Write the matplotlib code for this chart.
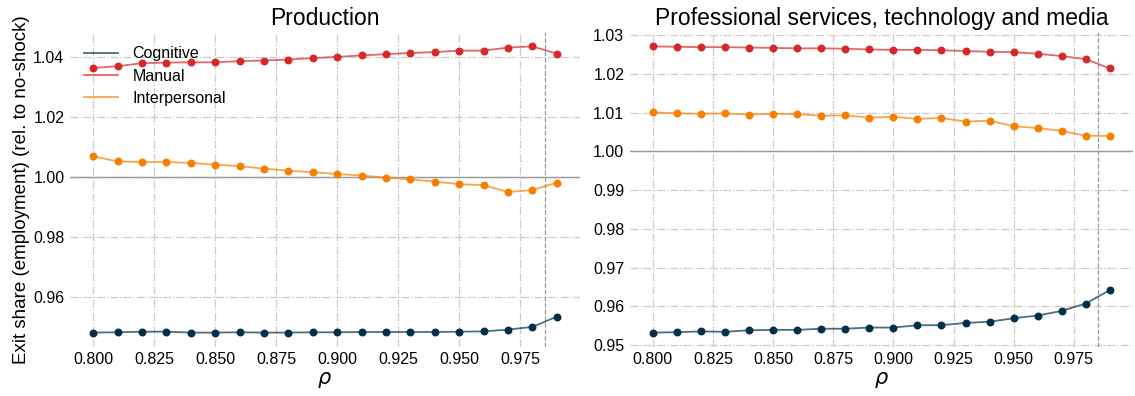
import numpy as np
import matplotlib.pyplot as plt

plt.rcParams['font.family'] = ['Liberation Sans', 'DejaVu Sans']

# === Datos ===
rho = [0.80, 0.81, 0.82, 0.83, 0.84, 0.85, 0.86, 0.87, 0.88, 0.89,
       0.90, 0.91, 0.92, 0.93, 0.94, 0.95, 0.96, 0.97, 0.98, 0.99]

prod_cognitive = [0.9483, 0.9484, 0.9486, 0.9486, 0.9483, 0.9483, 0.9484, 0.9483, 0.9483, 0.9484,
                  0.9484, 0.9485, 0.9485, 0.9485, 0.9485, 0.9486, 0.9487, 0.9493, 0.9502, 0.9536]
prod_manual = [1.0364, 1.0370, 1.0380, 1.0382, 1.0383, 1.0383, 1.0387, 1.0389, 1.0392, 1.0397,
               1.0401, 1.0406, 1.0410, 1.0414, 1.0417, 1.0422, 1.0422, 1.0432, 1.0436, 1.0412]
prod_interpersonal = [1.0070, 1.0053, 1.0051, 1.0051, 1.0048, 1.0042, 1.0037, 1.0029, 1.0022, 1.0017,
                      1.0011, 1.0006, 0.9999, 0.9993, 0.9986, 0.9977, 0.9974, 0.9951, 0.9958, 0.9982]

pst_cognitive = [0.9532, 0.9533, 0.9535, 0.9534, 0.9538, 0.9539, 0.9539, 0.9542, 0.9542, 0.9545,
                 0.9545, 0.9551, 0.9551, 0.9557, 0.9560, 0.9569, 0.9576, 0.9588, 0.9607, 0.9642]
pst_manual = [1.0271, 1.0270, 1.0269, 1.0269, 1.0268, 1.0267, 1.0266, 1.0266, 1.0265, 1.0263,
              1.0262, 1.0262, 1.0261, 1.0259, 1.0257, 1.0256, 1.0252, 1.0246, 1.0238, 1.0214]
pst_interpersonal = [1.0101, 1.0098, 1.0097, 1.0098, 1.0095, 1.0097, 1.0096, 1.0092, 1.0093, 1.0087,
                     1.0089, 1.0084, 1.0086, 1.0077, 1.0079, 1.0065, 1.0060, 1.0053, 1.0040, 1.0040]

rho_vline = 0.985

series_names = ["Cognitive", "Manual", "Interpersonal"]
colores = ["#003049", "#d62828", "#f77f00"]

paneles = [
    ("Production", [prod_cognitive, prod_manual, prod_interpersonal]),
    ("Professional services, technology and media", [pst_cognitive, pst_manual, pst_interpersonal]),
]

# === Gráfico ===
fig = plt.figure(figsize=(11.35, 3.96), dpi=100)
axes = [fig.add_axes([0.0617, 0.124, 0.4493, 0.795]),
        fig.add_axes([0.555, 0.124, 0.443, 0.795])]

for ax, (titulo, datos) in zip(axes, paneles):
    ax.grid(True, color="#cccccc", linestyle="-.", linewidth=0.9)
    ax.set_axisbelow(True)
    ax.axhline(1.0, color="#999999", linewidth=1.0, zorder=1)
    ax.axvline(rho_vline, color="#999999", linestyle="--", linewidth=0.9, zorder=1)
    for nombre, vals, c in zip(series_names, datos, colores):
        ax.plot(rho, vals, color=c, alpha=0.7, linewidth=1.3, label=nombre, zorder=2)
        ax.scatter(rho, vals, color=c, s=22, zorder=3)
    for s in ax.spines.values():
        s.set_visible(False)
    ax.tick_params(length=0, labelsize=11.5, pad=4)
    ax.set_xticks([0.800, 0.825, 0.850, 0.875, 0.900, 0.925, 0.950, 0.975])
    ax.set_xticklabels(["0.800", "0.825", "0.850", "0.875", "0.900", "0.925", "0.950", "0.975"])
    ax.set_title(titulo, fontsize=16.5, pad=5)
    ax.set_xlabel(r"$\rho$", fontsize=15, labelpad=2)

axes[0].set_yticks([0.96, 0.98, 1.00, 1.02, 1.04])
axes[0].set_yticklabels(["0.96", "0.98", "1.00", "1.02", "1.04"])
axes[1].set_yticks([0.95, 0.96, 0.97, 0.98, 0.99, 1.00, 1.01, 1.02, 1.03])
axes[1].set_yticklabels(["0.95", "0.96", "0.97", "0.98", "0.99", "1.00", "1.01", "1.02", "1.03"])
axes[0].set_ylabel("Exit share (employment) (rel. to no-shock)", fontsize=13.5, labelpad=2)

axes[0].legend(loc="upper left", frameon=False, fontsize=11.5, handlelength=2.1,
               handletextpad=0.9, labelspacing=0.45)

plt.savefig("out.png", dpi=100)
